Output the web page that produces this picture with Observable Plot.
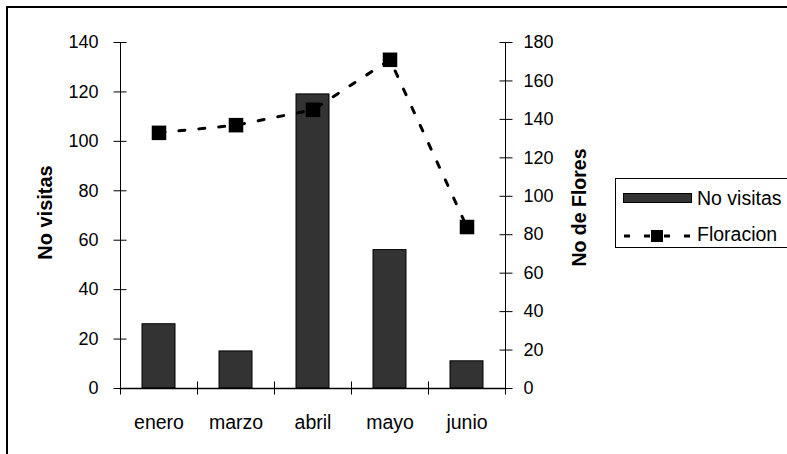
<!DOCTYPE html>
<html><head><meta charset="utf-8">
<script src="https://cdn.jsdelivr.net/npm/d3@7"></script>
<script src="https://cdn.jsdelivr.net/npm/@observablehq/plot@0.6"></script>
<style>
html,body{margin:0;padding:0;background:#fff;overflow:hidden;}
#wrap{position:relative;width:787px;height:454px;overflow:hidden;font-family:"Liberation Sans",Arial,sans-serif;color:#000;}
#wrap svg.plot{position:absolute;left:0;top:0;}
#frame{position:absolute;left:6px;top:6px;width:820px;height:520px;border:2px solid #000;box-sizing:border-box;pointer-events:none}
#legend{position:absolute;left:615px;top:178px;width:200px;height:70px;border:1.5px solid #000;box-sizing:border-box;background:#fff}
.lg{position:absolute;font-size:19.5px;line-height:20px;white-space:nowrap}
.sw{position:absolute}
</style></head><body><div id="wrap"><div id="frame"></div></div>
<script>
const months = ["enero","marzo","abril","mayo","junio"];
const visitas = [26,15,119,56,11];
const flores = [133,137,145,171,84];
const leftTicks = [0,20,40,60,80,100,120,140];
const rightTicks = [0,20,40,60,80,100,120,140,160,180];
const seriesNames = ["No visitas","Floracion"];
const axisTitles = ["No visitas","No de Flores"];

const k = 140/180;
const rows = months.map((m,i)=>({m, v: visitas[i], f: flores[i]*k}));
const half = (505-120)/5/2;
const font = "Liberation Sans, Arial, sans-serif";

const chart = Plot.plot({
  width:787, height:454, marginLeft:120, marginRight:282, marginTop:42, marginBottom:66,
  style:{fontFamily:font, fontSize:"18px", color:"#000", background:"transparent", overflow:"visible"},
  x:{type:"band", domain: months, padding:0},
  y:{domain:[0,140]},
  marks:[
    Plot.barY(rows,{x:"m",y:"v",fill:"#333333",stroke:"#000",strokeWidth:1,insetLeft:22,insetRight:22}),
    Plot.frame({anchor:"left", stroke:"#000"}),
    Plot.frame({anchor:"right", stroke:"#000"}),
    Plot.frame({anchor:"bottom", stroke:"#000", strokeWidth:1.5}),
    Plot.axisY(leftTicks,{anchor:"left",tickSize:13,dx:6.5,fill:"none",label:null}),
    Plot.axisY(leftTicks,{anchor:"left",tickSize:0,tickPadding:22,label:null}),
    Plot.axisY(rightTicks.map(d=>d*k),{anchor:"right",tickSize:13,dx:-6.5,fill:"none",label:null}),
    Plot.axisY(rightTicks.map(d=>d*k),{anchor:"right",tickSize:0,tickPadding:18,tickFormat:d=>String(Math.round(d/k)),label:null}),
    Plot.axisX(months,{anchor:"bottom",tickSize:13,dy:-6.5,dx:-half,fill:"none",label:null}),
    Plot.axisX(months.slice(-1),{anchor:"bottom",tickSize:13,dy:-6.5,dx:half,fill:"none",label:null}),
    Plot.axisX(months,{anchor:"bottom",tickSize:0,tickPadding:27,fontSize:19.5,label:null}),
    Plot.line(rows,{x:"m",y:"f",stroke:"#000",strokeWidth:3,strokeDasharray:"6,14"}),
    Plot.dot(rows,{x:"m",y:"f",symbol:"square",r:8.2,fill:"#000",stroke:null}),
    Plot.text([axisTitles[0]],{frameAnchor:"left",textAnchor:"middle",dx:-75,dy:-3,rotate:-90,fontWeight:"bold",fontSize:20,fill:"#000"}),
    Plot.text([axisTitles[1]],{frameAnchor:"right",textAnchor:"middle",dx:74,dy:-8,rotate:-90,fontWeight:"bold",fontSize:19.5,fill:"#000"})
  ]
});
const wrap = document.getElementById("wrap");
wrap.insertBefore(chart, wrap.firstChild);

// legend
const lg = document.createElement("div");
lg.id = "legend";
lg.innerHTML = `
<svg class="sw" style="left:7px;top:14px" width="70" height="11"><rect x="0.5" y="0.5" width="68" height="9" fill="#333333" stroke="#000"/></svg>
<div class="lg" style="left:81px;top:9px">${seriesNames[0]}</div>
<svg class="sw" style="left:8px;top:50px" width="70" height="14"><line x1="0" x2="66" y1="7" y2="7" stroke="#000" stroke-width="3" stroke-dasharray="6,14"/><rect x="27" y="1" width="12" height="12" fill="#000"/></svg>
<div class="lg" style="left:81px;top:45px">${seriesNames[1]}</div>`;
wrap.appendChild(lg);
</script>
</body></html>
